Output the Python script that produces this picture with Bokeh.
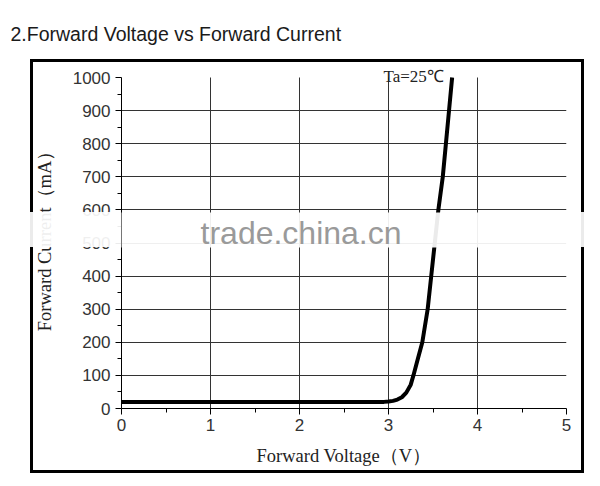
from bokeh.plotting import figure
from bokeh.models import Range1d, FixedTicker, Label, BoxAnnotation, InlineStyleSheet
from bokeh.embed import file_html
from bokeh.resources import INLINE

# data (Ta = 25 C)
voltage = [0.0, 0.5, 1.0, 1.5, 2.0, 2.5, 2.95, 3.0, 3.05, 3.1, 3.15, 3.2,
           3.25, 3.28, 3.33, 3.38, 3.44, 3.48, 3.52, 3.56, 3.61, 3.645, 3.68, 3.715]
current = [20, 20, 20, 20, 20, 20, 20, 21, 23, 27, 34, 48,
           72, 100, 150, 200, 300, 400, 500, 600, 700, 800, 900, 1000]

x_ticks = [0, 1, 2, 3, 4, 5]
x_minor = [0.5, 1.5, 2.5, 3.5, 4.5]
y_ticks = [0, 100, 200, 300, 400, 500, 600, 700, 800, 900, 1000]
y_minor = [50, 150, 250, 350, 450, 550, 650, 750, 850, 950]
x_grid = [1, 2, 3, 4]
y_grid = [100, 200, 300, 400, 500, 600, 700, 800, 900]

title_text = "2.Forward Voltage vs Forward Current"
x_label = "Forward Voltage（V）"
y_label = "Forward Current（mA）"
note_text = "Ta=25℃"
watermark = "trade.china.cn"

SANS = "Liberation Sans"
SERIF = "Liberation Serif"

# thick box round the chart part of the picture, and the washed-out
# watermark strip where it runs outside the plot area
box_css = InlineStyleSheet(css="""
:host { position: relative; }
:host::after {
  content: ""; position: absolute; left: 30px; top: 59px;
  width: 554px; height: 414px; border: 3px solid black;
  box-sizing: border-box; pointer-events: none; z-index: 1;
}
:host::before {
  content: ""; position: absolute; left: 0; top: 212px;
  width: 600px; height: 35px; pointer-events: none; z-index: 2;
  background: linear-gradient(to right,
    rgba(255,255,255,0.92) 0px, rgba(255,255,255,0.92) 121px,
    rgba(255,255,255,0) 121px, rgba(255,255,255,0) 566px,
    rgba(255,255,255,0.92) 566px, rgba(255,255,255,0.92) 600px);
}
""")

p = figure(width=600, height=486,
           x_range=Range1d(0, 5), y_range=Range1d(0, 1039.3),
           output_backend="svg", toolbar_location=None,
           min_border_left=121, min_border_right=34,
           min_border_top=64, min_border_bottom=78,
           stylesheets=[box_css])
p.outline_line_color = None

p.title.text = title_text
p.title.align = "left"
p.title.offset = -111
p.title.standoff = 40
p.title.text_font = SANS
p.title.text_font_size = "19.5px"
p.title.text_font_style = "normal"
p.title.text_color = "#1a1a1a"

p.xaxis.ticker = FixedTicker(ticks=x_ticks, minor_ticks=x_minor)
p.yaxis.ticker = FixedTicker(ticks=y_ticks, minor_ticks=y_minor)
p.yaxis.bounds = (0, 1000)
for ax in (p.xaxis, p.yaxis):
    ax.axis_line_color = "black"
    ax.major_tick_line_color = "black"
    ax.minor_tick_line_color = "black"
    ax.major_tick_in = 0
    ax.major_tick_out = 6
    ax.minor_tick_in = 0
    ax.minor_tick_out = 4
    ax.major_label_text_font = SANS
    ax.major_label_text_font_size = "17px"
    ax.major_label_text_color = "#333333"
    ax.axis_label_text_font = SERIF
    ax.axis_label_text_font_size = "18.5px"
    ax.axis_label_text_font_style = "normal"
    ax.axis_label_text_color = "#222222"
p.xaxis.major_label_standoff = 4
p.yaxis.major_label_standoff = 5
p.xaxis.axis_label = x_label
p.yaxis.axis_label = y_label
p.xaxis.axis_label_standoff = 12
p.yaxis.axis_label_standoff = 15

p.xgrid.ticker = FixedTicker(ticks=x_grid)
p.ygrid.ticker = FixedTicker(ticks=y_grid)
p.xgrid.cross_bounds = (0, 1000)
p.ygrid.cross_bounds = (0, 5)
for g in (p.xgrid, p.ygrid):
    g.grid_line_color = "#333333"
    g.grid_line_width = 1

p.line(voltage, current, line_color="black", line_width=4)

p.add_layout(Label(x=2.944, y=1004.5, text=note_text,
                   text_font=SERIF, text_font_size="17px", text_color="#222222",
                   text_baseline="middle"))

# watermark band inside the plot area
p.add_layout(BoxAnnotation(left=-1, right=6, top=592, bottom=486.4,
                           fill_color="white", fill_alpha=0.92, line_color=None))
p.add_layout(Label(x=0.888, y=531, text=watermark,
                   text_font=SANS, text_font_size="32px", text_color="#9a9a9a",
                   text_baseline="alphabetic"))

open("out.html", "w").write(file_html(p, INLINE))
